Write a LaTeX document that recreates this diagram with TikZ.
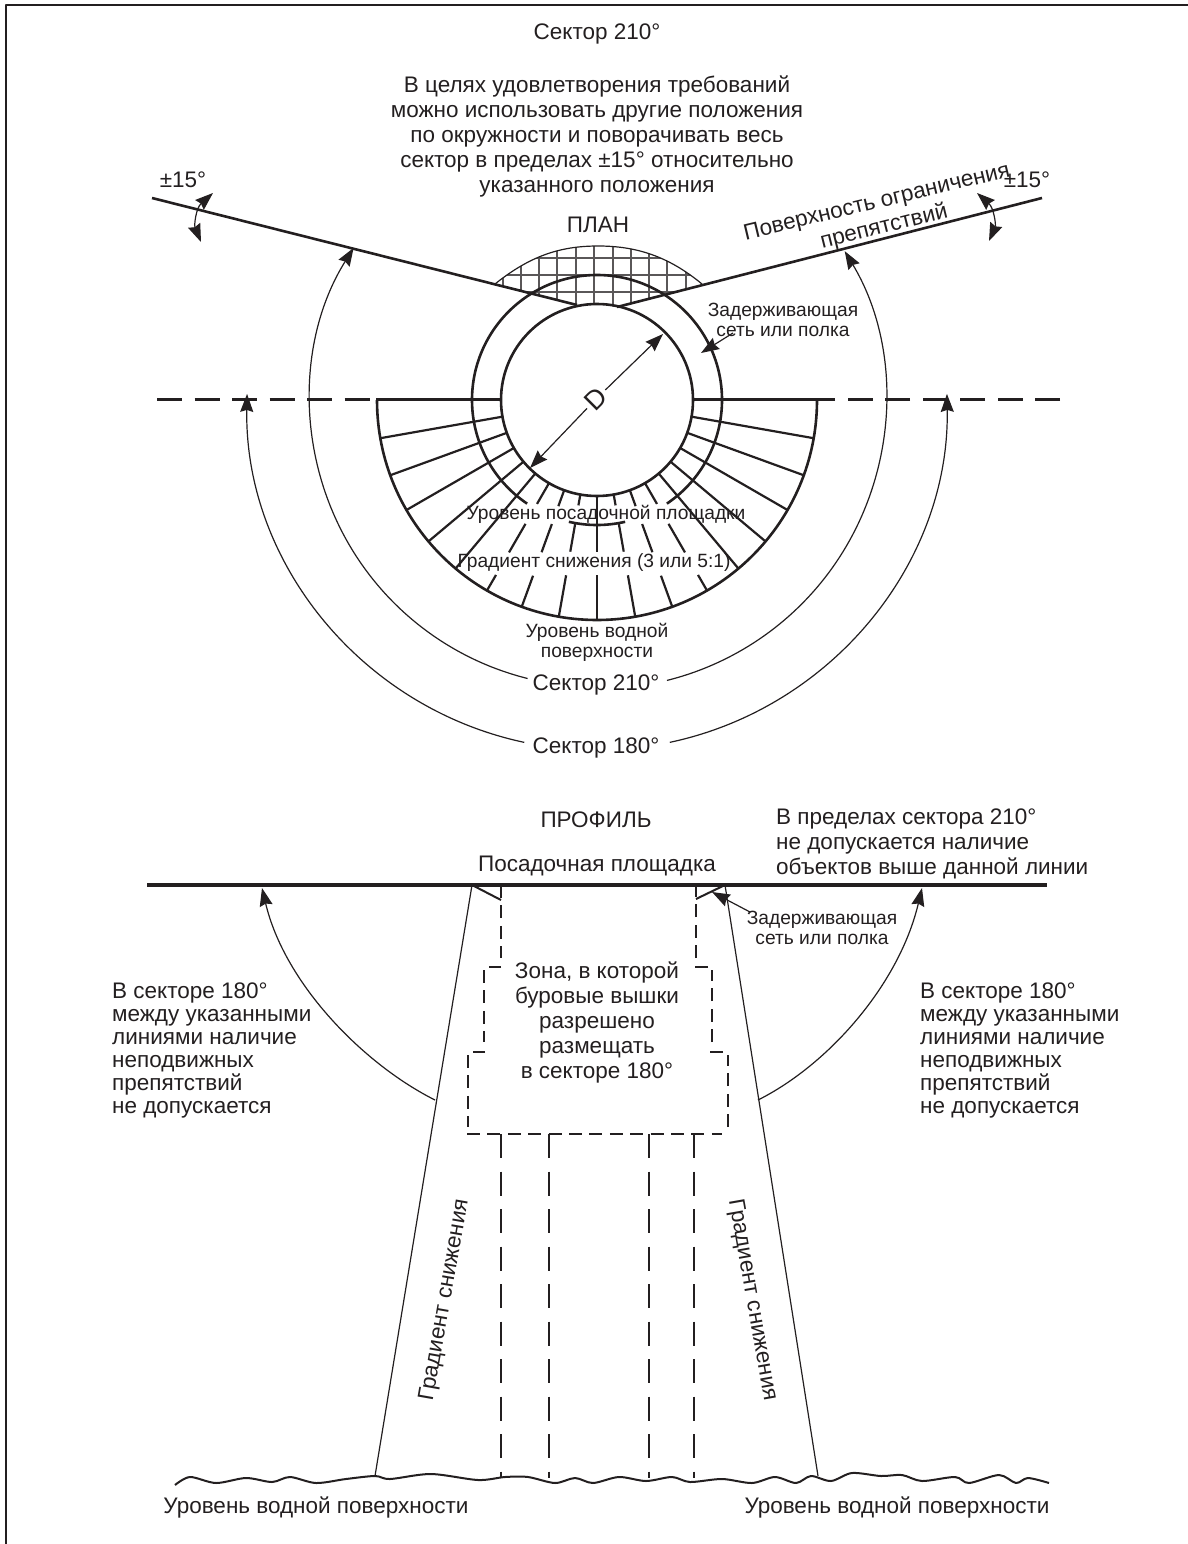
\documentclass[tikz,border=0pt]{standalone}
\usepackage{fontspec}
\setmainfont{Liberation Sans}
\usetikzlibrary{arrows.meta}
\definecolor{ink}{HTML}{231F20}
\tikzset{
  biglabel/.style={font=\fontsize{22.5}{25}\selectfont,text=ink,align=center,inner sep=0pt},
  midlabel/.style={font=\fontsize{19.2}{19.5}\selectfont,text=ink,align=center,inner sep=0pt},
  leftlabel/.style={biglabel,align=left,anchor=west},
  heavy/.style={draw=ink,line width=2.6pt},
  thin line/.style={draw=ink,line width=1.2pt},
  mesh/.style={draw=ink!75,line width=1.5pt},
  zone long/.style={draw=ink,line width=2.4pt,dash pattern=on 24pt off 13.5pt},
  zone short/.style={draw=ink,line width=2pt,dash pattern=on 13pt off 7.4pt},
}
\begin{document}
\begin{tikzpicture}[x=1pt,y=-1pt,>={Stealth[length=18pt,width=13pt,inset=2pt]},line join=bevel,]
\useasboundingbox (0,0) rectangle (1188,1544);
%%
\draw [thin line,line width=1.4pt] (6,1544) -- (6,5) -- (1188,5);
%% plan
\begin{scope}
  \clip (495,284) .. controls (530,256) and (560,246) .. (598,246) .. controls (636,246) and (668,256) .. (702,284) -- (617,307) -- (597,304) -- (577,305) -- cycle;
  \draw [mesh] (503,240) -- (503,310) (521,240) -- (521,310) (539,240) -- (539,310) (557,240) -- (557,310) (576,240) -- (576,310) (594,240) -- (594,310) (613,240) -- (613,310) (631,240) -- (631,310) (649,240) -- (649,310) (667,240) -- (667,310) (686,240) -- (686,310);
  \draw [mesh] (490,258) -- (710,258) (490,275) -- (710,275) (490,292) -- (710,292);
\end{scope}
\draw [thin line] (495,284) .. controls (530,256) and (560,246) .. (598,246) .. controls (636,246) and (668,256) .. (702,284);
\draw [heavy] (152,198) -- (577,305);
\draw [heavy] (1042,198) -- (617,307);
\draw [heavy,dash pattern=on 25pt off 12.5pt] (157,399.5) -- (370,399.5);
\draw [heavy,dash pattern=on 25pt off 12.5pt] (1060,399.5) -- (817,399.5);
\draw [heavy] (376,399.5) -- (501,399.5);
\draw [heavy] (694,399.5) -- (817,399.5);
\begin{scope}[shift={(597,400)}]
  \draw [heavy] (0,0) circle [radius=96];
  \draw [heavy] (180:125) arc [start angle=180,end angle=360,radius=125];
  \draw [heavy] (56:125) arc [start angle=56,end angle=0,radius=125];
  \draw [heavy] (180:125) arc [start angle=180,end angle=124,radius=125];
  \draw [heavy] (103:125) arc [start angle=103,end angle=77,radius=125];
  \draw [heavy] (180:220) arc [start angle=180,end angle=0,radius=220];
  \draw [heavy,line width=2.2pt] (10:96) -- (10:220) (20:96) -- (20:220) (30:96) -- (30:220) (40:96) -- (40:220) (50:96) -- (50:220);
  \draw [heavy,line width=2.2pt] (130:96) -- (130:220) (140:96) -- (140:220) (150:96) -- (150:220) (160:96) -- (160:220) (170:96) -- (170:220);
  \draw [heavy,line width=2.2pt] (60:96) -- (60:120) (60:143) -- (60:176) (60:202) -- (60:220);
  \draw [heavy,line width=2.2pt] (120:96) -- (120:120) (120:143) -- (120:176) (120:202) -- (120:220);
  \draw [heavy,line width=2.2pt] (70:96) -- (70:113) (70:132) -- (70:162) (70:187) -- (70:220);
  \draw [heavy,line width=2.2pt] (110:96) -- (110:113) (110:132) -- (110:162) (110:187) -- (110:220);
  \draw [heavy,line width=2.2pt] (80:96) -- (80:107) (80:125) -- (80:154) (80:178) -- (80:220);
  \draw [heavy,line width=2.2pt] (100:96) -- (100:107) (100:125) -- (100:154) (100:178) -- (100:220);
  \draw [heavy] (90:96) -- (90:152) (90:175) -- (90:220);
  \draw [thin line,<-] (212:287) arc [start angle=212,end angle=104,radius=287];
  \draw [thin line,<-] (-31:289) arc [start angle=-31,end angle=76,radius=289];
  \draw [thin line,<-] (181:350) arc [start angle=181,end angle=102,radius=350];
  \draw [thin line,<-] (-1:350) arc [start angle=-1,end angle=78,radius=350];
\end{scope}
\draw [thin line,<->] (213,193) .. controls (196,208) and (194,225) .. (201,242);
\draw [thin line,<->] (977,193) .. controls (994,208) and (996,225) .. (989,241);
\draw [thin line,->] (733,333) -- (701,353);
%%
\node (node_sector_top) at (597,34) [biglabel] {Сектор 210°};
\node (node_note) at (597,136.5) [biglabel] {В целях удовлетворения требований\\можно использовать другие положения\\по окружности и поворачивать весь\\сектор в пределах ±15° относительно\\указанного положения};
\node (node_left_15) at (183,180) [biglabel] {±15°};
\node (node_right_15) at (1027,180) [biglabel] {±15°};
\node (node_plan) at (598,225) [biglabel] {ПЛАН};
\node (node_surface) at (877,203) [biglabel,rotate=13.5] {Поверхность ограничения};
\node (node_surface_b) at (884,227) [biglabel,rotate=14] {препятствий};
\node (node_net_plan) at (783,320) [midlabel] {Задерживающая\\сеть или полка};
\node (node_d) at (596,399) [biglabel,rotate=45,inner sep=3pt,font=\fontsize{27}{27}\selectfont] {D};
\coordinate (tip_d_up) at (663,334);
\coordinate (tip_d_down) at (530,468);
\draw [thin line,->] (node_d) -- (tip_d_up);
\draw [thin line,->] (node_d) -- (tip_d_down);
\node (node_deck_level) at (606,514) [midlabel] {Уровень посадочной площадки};
\node (node_gradient) at (594,563) [midlabel] {Градиент снижения (3 или 5:1)};
\node (node_water_plan) at (597,642.5) [midlabel] {Уровень водной\\поверхности};
\node (node_sector_210) at (596,685) [biglabel] {Сектор 210°};
\node (node_sector_180) at (596,748) [biglabel] {Сектор 180°};
%% profile
\node (node_profile) at (596,820) [biglabel] {ПРОФИЛЬ};
\node (node_deck) at (597,866) [biglabel] {Посадочная площадка};
\node (node_limit) at (776,844) [leftlabel] {В пределах сектора 210°\\не допускается наличие\\объектов выше данной линии};
\draw [heavy,line width=4.4pt] (147,885) -- (1047,885);
\coordinate (deck_left) at (472,885);
\coordinate (deck_right) at (725,885);
\coordinate (water_left) at (375,1476);
\coordinate (water_right) at (818,1476);
\draw [thin line] (deck_left) -- (water_left);
\draw [thin line] (deck_right) -- (water_right);
\draw [heavy,line width=2pt] (deck_left) -- (501,900);
\draw [heavy,line width=2pt] (deck_right) -- (696,899);
\draw [zone short] (501,885) -- (501,958);
\draw [zone short] (501,967) -- (489,967);
\draw [zone short] (484,970) -- (484,1042);
\draw [zone short] (485,1052) -- (473,1052);
\draw [zone short] (468,1055) -- (468,1127);
\draw [zone short] (467,1134) -- (722,1134);
\draw [zone short] (728,1127) -- (728,1055);
\draw [zone short] (723,1052) -- (710,1052);
\draw [zone short] (712,1042) -- (712,970);
\draw [zone short] (708,967) -- (695,967);
\draw [zone short] (696,958) -- (696,885);
\draw [zone long] (501,1134) -- (501,1478);
\draw [zone long] (549,1134) -- (549,1478);
\draw [zone long,line width=2pt] (649,1134) -- (649,1478);
\draw [zone long,line width=2pt] (694,1134) -- (694,1478);
\draw [thin line,<-] (262,888) .. controls (285,985) and (365,1065) .. (435,1100);
\draw [thin line,<-] (922,888) .. controls (899,985) and (828,1065) .. (758,1100);
\draw [thin line,->] (750,912) -- (712,892);
\node (node_zone) at (597,1022) [biglabel] {Зона, в которой\\буровые вышки\\разрешено\\размещать\\в секторе 180°};
\node (node_net_profile) at (822,928) [midlabel] {Задерживающая\\сеть или полка};
\node (node_left_note) at (112,1050) [leftlabel,font=\fontsize{22.5}{23}\selectfont] {В секторе 180°\\между указанными\\линиями наличие\\неподвижных\\препятствий\\не допускается};
\node (node_right_note) at (920,1050) [leftlabel,font=\fontsize{22.5}{23}\selectfont] {В секторе 180°\\между указанными\\линиями наличие\\неподвижных\\препятствий\\не допускается};
\node (node_grad_left) at (445,1300) [biglabel,rotate=80] {Градиент снижения};
\node (node_grad_right) at (752,1300) [biglabel,rotate=-80] {Градиент снижения};
\draw [heavy,line width=2pt] plot [smooth] coordinates {(175,1485) (190,1477) (216,1483) (246,1478) (272,1482) (290,1477) (316,1483) (346,1479) (375,1476) (390,1479) (431,1474) (478,1480) (505,1477) (528,1477) (555,1483) (575,1478) (593,1483) (619,1477) (646,1481) (672,1477) (690,1482) (722,1479) (752,1483) (775,1477) (796,1483) (811,1476) (831,1481) (852,1473) (881,1476) (902,1475) (922,1481) (955,1477) (969,1483) (999,1475) (1016,1483) (1028,1478) (1049,1483)};
\node (node_water_left) at (316,1507) [biglabel] {Уровень водной поверхности};
\node (node_water_right) at (897,1507) [biglabel] {Уровень водной поверхности};
%
\end{tikzpicture}
\end{document}
